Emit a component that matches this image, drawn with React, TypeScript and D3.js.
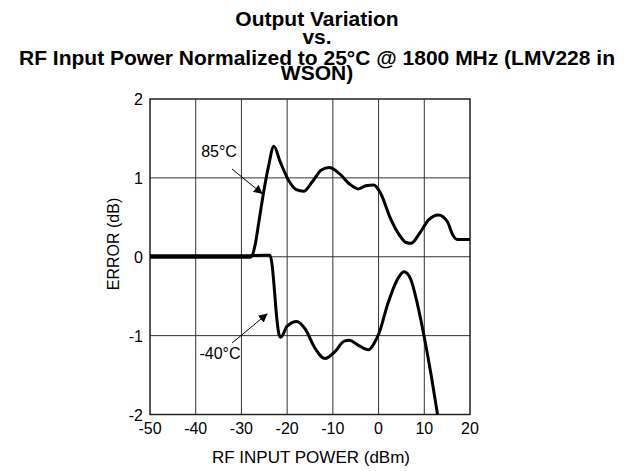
import React from "react";
import * as d3 from "d3";

const xTicks = [-50, -40, -30, -20, -10, 0, 10, 20];
const yTicks = [-2, -1, 0, 1, 2];

const hot85: [number, number][] = [
  [-50, -0.005], [-40, -0.005], [-30, -0.005], [-28, -0.005], [-27, 0.15], [-26.3, 0.4], [-25.2, 0.8], [-24.1, 1.14],
  [-22.9, 1.4], [-21.5, 1.2], [-19.5, 0.95], [-18, 0.85], [-16.4, 0.83], [-14.5, 0.95], [-12.5, 1.1],
  [-10.8, 1.13], [-8.5, 1.05], [-6.3, 0.92], [-4.4, 0.86], [-2.8, 0.9], [-1.1, 0.91], [0.5, 0.8],
  [2.5, 0.5], [4.5, 0.28], [6, 0.18], [7.1, 0.17], [9, 0.3], [11, 0.47], [13.1, 0.53], [15, 0.45],
  [16.3, 0.27], [17.2, 0.22], [20, 0.22],
];

const cold40: [number, number][] = [
  [-50, 0.012], [-30, 0.012], [-25, 0.02], [-23.8, 0.02], [-23.3, -0.1], [-22.9, -0.34], [-22.3, -0.76],
  [-21.8, -0.98], [-21.4, -1.02], [-20, -0.88], [-17.9, -0.82], [-16, -0.92], [-14, -1.15],
  [-11.7, -1.29], [-9.5, -1.2], [-7.5, -1.07], [-6.4, -1.06], [-4.5, -1.12], [-2.2, -1.18],
  [-1, -1.1], [0.1, -0.97], [2, -0.6], [4, -0.3], [5.6, -0.19], [7, -0.28], [8.5, -0.6],
  [10, -1.02], [11.5, -1.5], [12.9, -2.0],
];

const titleLines = [
  "Output Variation",
  "vs.",
  "RF Input Power Normalized to 25°C @ 1800 MHz (LMV228 in",
  "WSON)",
];
const titleBaselines = [26, 44, 65, 80];

export default function App() {
  const W = 638, H = 471;
  const left = 150, right = 470, top = 99, bottom = 414.5;
  const x = d3.scaleLinear().domain([-50, 20]).range([left, right]);
  const y = d3.scaleLinear().domain([-2, 2]).range([bottom, top]);
  const line = d3.line<[number, number]>().x(d => x(d[0])).y(d => y(d[1])).curve(d3.curveMonotoneX);
  const font = "Liberation Sans, Arial, sans-serif";

  return (
    <svg width={W} height={H} style={{ position: "absolute", left: 0, top: 0 }} fontFamily={font}>
      <defs>
        <marker id="arr" viewBox="0 0 10 10" refX="9" refY="5" markerWidth="9" markerHeight="9" orient="auto" markerUnits="userSpaceOnUse">
          <path d="M0,0 L10,5 L0,10 z" fill="#000" />
        </marker>
      </defs>
      <rect width={W} height={H} fill="#fff" />
      {titleLines.map((t, i) => (
        <text key={i} x={317} y={titleBaselines[i]} textAnchor="middle" fontWeight="bold" fontSize={21} fill="#000">{t}</text>
      ))}
      {xTicks.slice(1, -1).map(v => (
        <line key={"gx" + v} x1={x(v)} x2={x(v)} y1={top} y2={bottom} stroke="#333" strokeWidth={1} />
      ))}
      {yTicks.slice(1, -1).map(v => (
        <line key={"gy" + v} x1={left} x2={right} y1={y(v)} y2={y(v)} stroke="#333" strokeWidth={1} />
      ))}
      <rect x={left} y={top} width={right - left} height={bottom - top} fill="none" stroke="#222" strokeWidth={1.5} />
      <path d={line(hot85) || ""} fill="none" stroke="#000" strokeWidth={3} strokeLinejoin="round" />
      <path d={line(cold40) || ""} fill="none" stroke="#000" strokeWidth={3} strokeLinejoin="round" />
      {xTicks.map(v => (
        <text key={"tx" + v} x={x(v)} y={434} textAnchor="middle" fontSize={16} fill="#000">{v}</text>
      ))}
      {yTicks.map(v => (
        <text key={"ty" + v} x={143} y={y(v) + 6} textAnchor="end" fontSize={16} fill="#000">{v}</text>
      ))}
      <text x={311} y={463} textAnchor="middle" fontSize={17} fill="#000">RF INPUT POWER (dBm)</text>
      <text transform={`translate(119,244) rotate(-90)`} textAnchor="middle" fontSize={16} fill="#000">ERROR (dB)</text>
      <text x={219} y={157} textAnchor="middle" fontSize={16} fill="#000">85°C</text>
      <line x1={232} y1={169} x2={262} y2={193.5} stroke="#000" strokeWidth={1} markerEnd="url(#arr)" />
      <text x={220} y={359} textAnchor="middle" fontSize={16} fill="#000">-40°C</text>
      <line x1={232} y1={343} x2={267} y2={314} stroke="#000" strokeWidth={1} markerEnd="url(#arr)" />
    </svg>
  );
}
